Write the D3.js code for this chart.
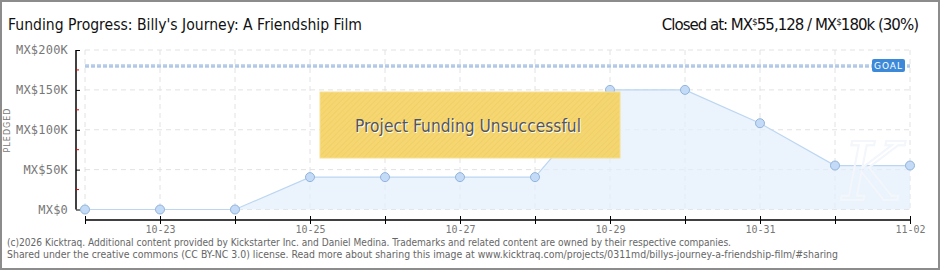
<!DOCTYPE html>
<html>
<head>
<meta charset="utf-8">
<script src="https://cdn.jsdelivr.net/npm/d3@7"></script>
<style>
  body { margin: 0; background: #fff; }
  svg { display: block; font-family: "DejaVu Sans", sans-serif; }
</style>
</head>
<body>
<div id="chart"></div>
<script>
let width = 940;
let height = 270;

// data
let days = ["10-22", "10-23", "10-24", "10-25", "10-26", "10-27", "10-28", "10-29", "10-30", "10-31", "11-01", "11-02"];
let pledged = [0, 0, 0, 40600, 40600, 40600, 40600, 150000, 150000, 108200, 55128, 55128];
let yTicks = [0, 50000, 100000, 150000, 200000];
let yTickLabels = ["MX$0", "MX$50K", "MX$100K", "MX$150K", "MX$200K"];
let goal = 180000;

let svg = d3.select("#chart").append("svg")
    .attr("width", width)
    .attr("height", height);

let parse = d3.timeParse("%Y-%m-%d");
let dates = days.map(d => parse("2025-" + d));

let x = d3.scaleTime()
    .domain(d3.extent(dates))
    .range([85, 910]);
let y = d3.scaleLinear()
    .domain([0, 200000])
    .range([209.5, 50]);

// frame
svg.append("rect")
    .attr("x", 1).attr("y", 1)
    .attr("width", width - 2).attr("height", height - 2)
    .attr("fill", "#fff")
    .attr("stroke", "#8c8c8c")
    .attr("stroke-width", 2);

// title
svg.append("text")
    .attr("x", 8).attr("y", 30)
    .attr("textLength", 354)
    .attr("lengthAdjust", "spacingAndGlyphs")
    .style("font-size", "16px")
    .style("fill", "#111")
    .text("Funding Progress: Billy's Journey: A Friendship Film");

let closed = svg.append("text")
    .attr("x", 918).attr("y", 30)
    .attr("text-anchor", "end")
    .style("font-size", "15px")
    .style("letter-spacing", "-1px")
    .style("fill", "#111");
closed.append("tspan").text("Closed at:  MX");
closed.append("tspan").attr("dy", -5).style("font-size", "9px").text("$");
closed.append("tspan").attr("dy", 5).text("55,128 /  MX");
closed.append("tspan").attr("dy", -5).style("font-size", "9px").text("$");
closed.append("tspan").attr("dy", 5).text("180k (30%)");

// grid
let grid = svg.append("g").attr("class", "grid");
grid.selectAll("line.v").data(dates).enter().append("line")
    .attr("x1", d => x(d)).attr("x2", d => x(d))
    .attr("y1", y(200000)).attr("y2", y(0))
    .attr("stroke", "#e2e2e2").attr("stroke-dasharray", "5,4");
grid.selectAll("line.h").data(yTicks).enter().append("line")
    .attr("x1", x(dates[0])).attr("x2", x(dates[dates.length - 1]))
    .attr("y1", d => y(d)).attr("y2", d => y(d))
    .attr("stroke", "#e2e2e2").attr("stroke-dasharray", "5,4");

// area + line
let series = dates.map((d, i) => ({ date: d, value: pledged[i] }));
svg.append("path")
    .datum(series)
    .attr("fill", "#e3eefb")
    .attr("fill-opacity", 0.7)
    .attr("d", d3.area().x(d => x(d.date)).y0(y(0)).y1(d => y(d.value)));
svg.append("path")
    .datum(series)
    .attr("fill", "none")
    .attr("stroke", "#bcd6f2")
    .attr("stroke-width", 1.2)
    .attr("d", d3.line().x(d => x(d.date)).y(d => y(d.value)));

// watermark
svg.append("text")
    .attr("x", 872).attr("y", 200)
    .attr("text-anchor", "middle")
    .style("font-size", "80px")
    .style("font-style", "italic")
    .style("font-family", "DejaVu Serif, serif")
    .style("fill", "none")
    .style("stroke", "#f3f6fa")
    .style("stroke-width", 2)
    .text("K");

// goal line
svg.append("line")
    .attr("x1", x(dates[0])).attr("x2", x(dates[dates.length - 1]))
    .attr("y1", y(goal)).attr("y2", y(goal))
    .attr("stroke", "#8fb0dc")
    .attr("stroke-width", 3)
    .attr("stroke-dasharray", "4,2");
svg.append("line")
    .attr("x1", x(dates[0])).attr("x2", x(dates[dates.length - 1]))
    .attr("y1", y(goal)).attr("y2", y(goal))
    .attr("stroke", "#d7e4f4")
    .attr("stroke-width", 1)
    .attr("stroke-dasharray", "4,2");
let goalG = svg.append("g").attr("transform", "translate(872," + (y(goal) - 7) + ")");
goalG.append("rect")
    .attr("width", 33).attr("height", 13).attr("rx", 2)
    .attr("fill", "#3d89d9");
goalG.append("text")
    .attr("x", 16.5).attr("y", 10)
    .attr("text-anchor", "middle")
    .style("font-size", "9px")
    .style("letter-spacing", "1px")
    .style("fill", "#fff")
    .text("GOAL");

// points
svg.selectAll("circle.pt").data(series).enter().append("circle")
    .attr("cx", d => x(d.date))
    .attr("cy", d => y(d.value))
    .attr("r", 4.5)
    .attr("fill", "#c3dbf6")
    .attr("stroke", "#92b3db")
    .attr("stroke-width", 1);

// y axis
let yAxis = svg.append("g")
    .attr("transform", "translate(76,0)")
    .call(d3.axisLeft(y).tickValues(yTicks).tickSize(6).tickFormat((d, i) => yTickLabels[i]));
yAxis.select(".domain").attr("stroke", "#000").attr("stroke-width", 1.5).attr("d", "M0," + y(200000) + "V" + y(0));
yAxis.selectAll(".tick line").attr("stroke", "#000").attr("x2", 4).attr("x1", 0);
yAxis.selectAll(".tick text")
    .attr("x", -8)
    .style("font-size", "12px")
    .style("fill", "#777")
    .style("font-family", "DejaVu Sans Mono, monospace")
    .style("letter-spacing", "0.2px");
yAxis.selectAll("line.minor").data([25000, 75000, 125000, 175000]).enter().append("line")
    .attr("class", "minor")
    .attr("x1", 0).attr("x2", 3)
    .attr("y1", d => y(d)).attr("y2", d => y(d))
    .attr("stroke", "#e00000");

// x axis
let xAxis = svg.append("g")
    .attr("transform", "translate(0,220)")
    .call(d3.axisBottom(x).tickValues(dates).tickSize(5)
        .tickFormat((d, i) => i % 2 === 1 ? days[i] : ""));
xAxis.select(".domain").attr("stroke", "#000").attr("stroke-width", 1.5).attr("d", "M" + x(dates[0]) + ",0H" + x(dates[dates.length - 1]));
xAxis.selectAll(".tick line").attr("stroke", "#000").attr("y1", -4).attr("y2", 4);
xAxis.selectAll(".tick text")
    .attr("y", 6)
    .style("font-size", "10px")
    .style("fill", "#777")
    .style("font-family", "DejaVu Sans Mono, monospace");

// y label
svg.append("text")
    .attr("transform", "translate(10,130) rotate(-90)")
    .attr("text-anchor", "middle")
    .style("font-size", "8px")
    .style("letter-spacing", "1px")
    .style("fill", "#777")
    .text("PLEDGED");

// unsuccessful box
let defs = svg.append("defs");
let pat = defs.append("pattern")
    .attr("id", "stripes")
    .attr("width", 4).attr("height", 4)
    .attr("patternUnits", "userSpaceOnUse")
    .attr("patternTransform", "rotate(45)");
pat.append("rect").attr("width", 4).attr("height", 4).attr("fill", "#f5d468");
pat.append("rect").attr("width", 1).attr("height", 4).attr("fill", "#efcd60");
svg.append("rect")
    .attr("x", 320).attr("y", 92)
    .attr("width", 300).attr("height", 66)
    .attr("fill", "url(#stripes)")
    .attr("fill-opacity", 0.95)
    .attr("stroke", "#f7e08f")
    .attr("stroke-width", 1);
svg.append("text")
    .attr("x", 469).attr("y", 133)
    .attr("text-anchor", "middle")
    .attr("textLength", 226)
    .attr("lengthAdjust", "spacingAndGlyphs")
    .style("font-size", "18px")
    .style("fill", "#fff")
    .text("Project Funding Unsuccessful");
svg.append("text")
    .attr("x", 468).attr("y", 132)
    .attr("text-anchor", "middle")
    .attr("textLength", 226)
    .attr("lengthAdjust", "spacingAndGlyphs")
    .style("font-size", "18px")
    .style("fill", "#555")
    .text("Project Funding Unsuccessful");

// footer
let footer = [
    "(c)2026 Kicktraq. Additional content provided by Kickstarter Inc. and Daniel Medina. Trademarks and related content are owned by their respective companies.",
    "Shared under the creative commons (CC BY-NC 3.0) license. Read more about sharing this image at www.kicktraq.com/projects/0311md/billys-journey-a-friendship-film/#sharing"
];
let footLen = [724, 831];
svg.selectAll("text.foot").data(footer).enter().append("text")
    .attr("class", "foot")
    .attr("x", 7)
    .attr("y", (d, i) => 246 + i * 12)
    .attr("textLength", (d, i) => footLen[i])
    .attr("lengthAdjust", "spacingAndGlyphs")
    .style("font-size", "10px")
    .style("fill", "#666")
    .text(d => d);
</script>
</body>
</html>
